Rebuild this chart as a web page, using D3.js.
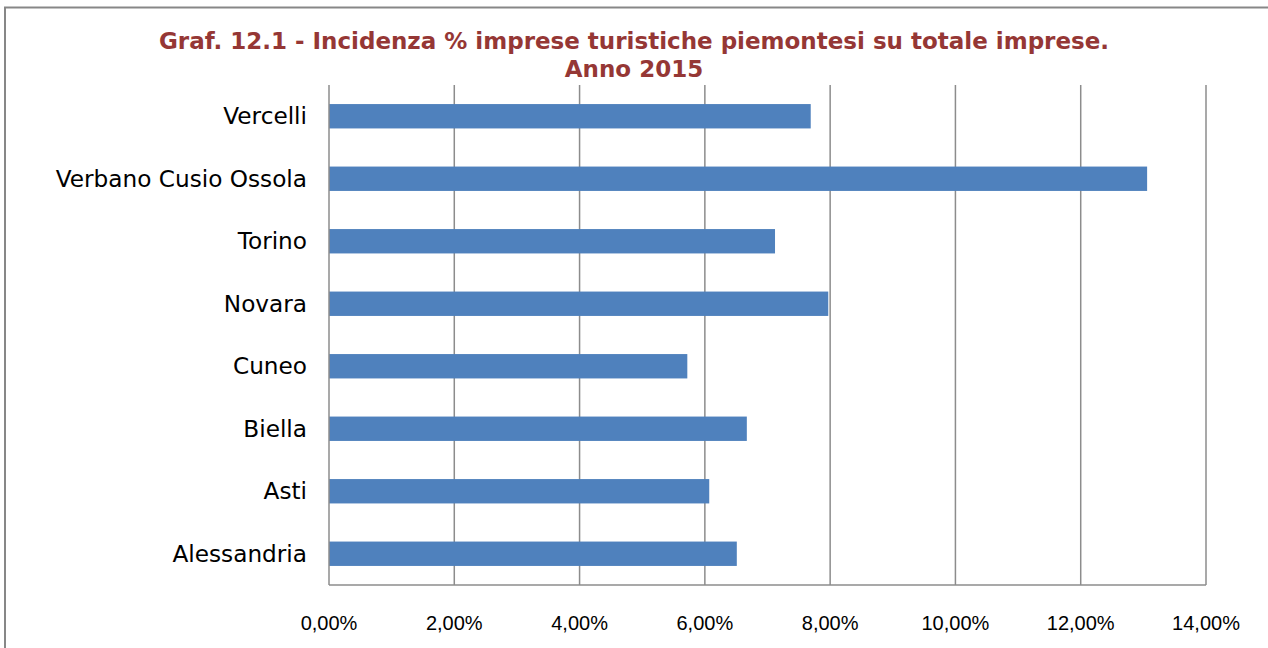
<!DOCTYPE html>
<html>
<head>
<meta charset="utf-8">
<script src="https://cdn.jsdelivr.net/npm/d3@7"></script>
<style>
  body { margin: 0; background: #fff; }
</style>
</head>
<body>
<div id="chart"></div>
<script>
// data
var province = ["Vercelli", "Verbano Cusio Ossola", "Torino", "Novara", "Cuneo", "Biella", "Asti", "Alessandria"];
var incidenza = [7.69, 13.06, 7.12, 7.97, 5.72, 6.67, 6.07, 6.51];
var xTicks = [0, 2, 4, 6, 8, 10, 12, 14];
var titleLines = ["Graf. 12.1 - Incidenza % imprese turistiche piemontesi su totale imprese.", "Anno 2015"];

var W = 1268, H = 648;
var margin = {left: 329, right: 62, top: 85, bottom: 63};

var svg = d3.select("#chart").append("svg")
    .attr("width", W)
    .attr("height", H);

// outer frame (runs off the right and bottom edges)
svg.append("rect")
    .attr("x", 5).attr("y", 7.5)
    .attr("width", W + 20).attr("height", H + 20)
    .attr("fill", "none")
    .attr("stroke", "#878787")
    .attr("stroke-width", 2);

var x = d3.scaleLinear()
    .domain([0, 14])
    .range([margin.left, W - margin.right]);

var y = d3.scaleBand()
    .domain(province)
    .range([margin.top, H - margin.bottom])
    .paddingInner(0.61)
    .paddingOuter(0.305);

var yTop = margin.top, yBot = H - margin.bottom;

// gridlines
svg.append("g").selectAll("line")
    .data(xTicks.slice(1))
    .enter().append("line")
    .attr("x1", function (d) { return x(d); })
    .attr("x2", function (d) { return x(d); })
    .attr("y1", yTop)
    .attr("y2", yBot)
    .attr("stroke", "#8c8c8c")
    .attr("stroke-width", 1.5);

// bars
svg.append("g").selectAll("rect")
    .data(province)
    .enter().append("rect")
    .attr("x", x(0))
    .attr("y", function (d) { return y(d); })
    .attr("width", function (d, i) { return x(incidenza[i]) - x(0); })
    .attr("height", y.bandwidth())
    .attr("fill", "#4f81bd");

// axis lines
svg.append("line")
    .attr("x1", x(0)).attr("x2", x(0))
    .attr("y1", yTop).attr("y2", yBot)
    .attr("stroke", "#8c8c8c").attr("stroke-width", 1.5);
svg.append("line")
    .attr("x1", x(0)).attr("x2", x(14))
    .attr("y1", yBot).attr("y2", yBot)
    .attr("stroke", "#8c8c8c").attr("stroke-width", 1.5);

// category labels
svg.append("g").selectAll("text")
    .data(province)
    .enter().append("text")
    .attr("x", x(0) - 22)
    .attr("y", function (d) { return y(d) + y.bandwidth() / 2; })
    .attr("dy", "0.35em")
    .attr("text-anchor", "end")
    .attr("font-family", "DejaVu Sans, Verdana, sans-serif")
    .attr("font-size", 23.2)
    .attr("fill", "#000")
    .text(function (d) { return d; });

// x tick labels
svg.append("g").selectAll("text")
    .data(xTicks)
    .enter().append("text")
    .attr("x", function (d) { return x(d); })
    .attr("y", 630)
    .attr("text-anchor", "middle")
    .attr("font-family", "Liberation Sans, Arial, sans-serif")
    .attr("font-size", 20)
    .attr("fill", "#000")
    .text(function (d) { return d.toFixed(2).replace(".", ",") + "%"; });

// title
svg.append("g").selectAll("text")
    .data(titleLines)
    .enter().append("text")
    .attr("x", 634)
    .attr("y", function (d, i) { return 49 + i * 28; })
    .attr("text-anchor", "middle")
    .attr("font-family", "DejaVu Sans, Verdana, sans-serif")
    .attr("font-weight", "bold")
    .attr("font-size", 23)
    .attr("fill", "#953735")
    .text(function (d) { return d; });
</script>
</body>
</html>
